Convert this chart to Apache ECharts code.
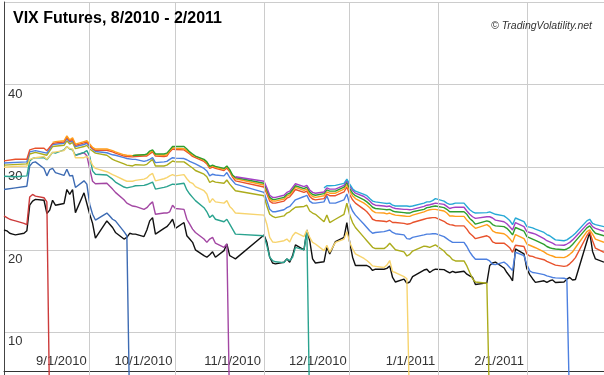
<!DOCTYPE html>
<html>
<head>
<meta charset="utf-8">
<script src="https://cdn.jsdelivr.net/npm/echarts@6/dist/echarts.min.js"></script>
<style>
html,body{margin:0;padding:0;background:#fff;}
#c{width:604px;height:375px;}
</style>
</head>
<body>
<div id="c"></div>
<script>
const _ = null;

const dates = [
'2010-08-02','2010-08-03','2010-08-04','2010-08-05','2010-08-06','2010-08-09','2010-08-10','2010-08-11','2010-08-12','2010-08-13','2010-08-16','2010-08-17','2010-08-18','2010-08-19','2010-08-20','2010-08-23','2010-08-24','2010-08-25','2010-08-26','2010-08-27','2010-08-30','2010-08-31',
'2010-09-01','2010-09-02','2010-09-03','2010-09-07','2010-09-08','2010-09-09','2010-09-10','2010-09-13','2010-09-14','2010-09-15','2010-09-16','2010-09-17','2010-09-20','2010-09-21','2010-09-22','2010-09-23','2010-09-24','2010-09-27','2010-09-28','2010-09-29','2010-09-30',
'2010-10-01','2010-10-04','2010-10-05','2010-10-06','2010-10-07','2010-10-08','2010-10-11','2010-10-12','2010-10-13','2010-10-14','2010-10-15','2010-10-18','2010-10-19','2010-10-20','2010-10-21','2010-10-22',
'2010-11-01','2010-11-02','2010-11-03','2010-11-04','2010-11-05','2010-11-08','2010-11-09','2010-11-10','2010-11-11','2010-11-12','2010-11-15','2010-11-16','2010-11-17','2010-11-18','2010-11-19','2010-11-22','2010-11-23','2010-11-24','2010-11-26','2010-11-29','2010-11-30',
'2010-12-01','2010-12-02','2010-12-03','2010-12-06','2010-12-07','2010-12-08','2010-12-09','2010-12-10','2010-12-13','2010-12-14','2010-12-15','2010-12-16','2010-12-17','2010-12-20','2010-12-21','2010-12-22','2010-12-23','2010-12-27','2010-12-28','2010-12-29','2010-12-30','2010-12-31',
'2011-01-03','2011-01-04','2011-01-05','2011-01-06','2011-01-07','2011-01-10','2011-01-11','2011-01-12','2011-01-13','2011-01-14','2011-01-18','2011-01-19','2011-01-20','2011-01-21','2011-01-24','2011-01-25','2011-01-26','2011-01-27','2011-01-28','2011-01-31',
'2011-02-01','2011-02-02','2011-02-03','2011-02-04','2011-02-07','2011-02-08','2011-02-09','2011-02-10','2011-02-11','2011-02-14','2011-02-15','2011-02-16','2011-02-17','2011-02-18','2011-02-22','2011-02-23','2011-02-24','2011-02-25','2011-02-28'
];

const monthTicks = ['2010-09-01','2010-10-01','2010-11-01','2010-12-01','2011-01-01','2011-02-01'];

const vix = [
22.4,22.3,22.0,21.9,21.8,22.0,22.3,25.4,25.9,26.1,26.0,24.4,24.8,26.0,25.4,25.6,27.3,26.7,27.3,24.5,26.9,25.6,
24.3,23.2,21.4,23.5,23.1,22.7,22.1,21.3,21.5,22.0,21.9,21.9,21.6,22.4,23.5,23.9,21.9,22.6,22.8,23.2,23.7,
22.6,23.3,21.7,21.3,20.9,20.0,19.3,19.1,19.4,19.75,19.1,19.9,20.7,19.3,19.1,18.9,
21.8,20.9,19.1,18.4,18.3,18.5,18.9,18.5,19.3,20.6,20.0,22.4,21.1,18.9,18.4,18.55,20.3,19.5,21.0,21.5,23.3,
20.9,19.1,18.1,18.1,18.1,17.9,17.5,17.65,17.65,17.75,18.05,16.65,16.1,16.45,15.95,16.1,16.75,17.55,17.65,17.25,17.5,17.65,
17.6,17.4,17.2,17.4,17.25,17.4,17.05,16.85,16.65,15.8,16.0,18.1,18.4,18.5,17.8,17.25,16.8,16.25,20.1,19.5,
17.7,17.0,16.5,16.05,16.25,16.05,16.25,16.35,16.05,16.1,16.45,16.65,16.35,16.4,21.0,22.1,19.8,18.9,18.5
];

const vxAug10 = [
24.1,23.9,23.7,23.6,23.5,23.2,23.05,26.4,26.7,26.5,26.3,25.8,0,_,_,_,_,_,_,_,_,_,
_,_,_,_,_,_,_,_,_,_,_,_,_,_,_,_,_,_,_,_,_,
_,_,_,_,_,_,_,_,_,_,_,_,_,_,_,_,
_,_,_,_,_,_,_,_,_,_,_,_,_,_,_,_,_,_,_,_,_,
_,_,_,_,_,_,_,_,_,_,_,_,_,_,_,_,_,_,_,_,_,_,
_,_,_,_,_,_,_,_,_,_,_,_,_,_,_,_,_,_,_,_,
_,_,_,_,_,_,_,_,_,_,_,_,_,_,_,_,_,_,_
];

const vxSep10 = [
27.3,_,_,_,27.5,_,27.7,30.15,30.55,30.65,29.85,28.95,29.7,29.85,29.35,29.0,29.75,28.95,29.0,27.55,28.35,27.95,
25.5,24.3,23.6,24.45,24.1,23.7,23.5,22.2,21.7,0,_,_,_,_,_,_,_,_,_,_,_,
_,_,_,_,_,_,_,_,_,_,_,_,_,_,_,_,
_,_,_,_,_,_,_,_,_,_,_,_,_,_,_,_,_,_,_,_,_,
_,_,_,_,_,_,_,_,_,_,_,_,_,_,_,_,_,_,_,_,_,_,
_,_,_,_,_,_,_,_,_,_,_,_,_,_,_,_,_,_,_,_,
_,_,_,_,_,_,_,_,_,_,_,_,_,_,_,_,_,_,_
];

const vxOct10 = [
_,_,_,_,_,_,_,_,_,_,_,_,_,_,_,_,_,_,_,31.45,31.75,31.4,
29.8,28.3,28.0,28.05,_,27.35,26.95,26.05,25.65,_,25.3,25.25,24.9,25.1,25.5,25.8,24.3,24.45,24.45,24.6,25.4,
25.0,24.9,23.7,23.1,22.5,22.1,21.3,20.9,21.3,21.5,20.8,20.3,20.7,0,_,_,
_,_,_,_,_,_,_,_,_,_,_,_,_,_,_,_,_,_,_,_,_,
_,_,_,_,_,_,_,_,_,_,_,_,_,_,_,_,_,_,_,_,_,_,
_,_,_,_,_,_,_,_,_,_,_,_,_,_,_,_,_,_,_,_,
_,_,_,_,_,_,_,_,_,_,_,_,_,_,_,_,_,_,_
];

const vxNov10 = [
28.9,_,_,_,28.85,_,28.95,30.75,31.05,31.15,31.15,30.9,_,31.8,31.7,32.1,32.5,32.2,32.1,31.45,31.8,32.0,
31.3,29.55,29.15,29.05,_,28.55,28.2,27.6,27.5,_,27.65,27.75,27.8,27.9,28.05,28.2,27.35,27.55,27.65,27.8,27.95,
27.9,28.05,27.25,26.75,26.35,25.95,25.1,24.6,23.9,24.2,23.7,23.4,23.7,23.1,22.5,21.9,
21.7,20.5,19.1,18.7,18.55,18.45,18.9,18.7,19.1,20.3,20.0,22.4,0,_,_,_,_,_,_,_,_,
_,_,_,_,_,_,_,_,_,_,_,_,_,_,_,_,_,_,_,_,_,_,
_,_,_,_,_,_,_,_,_,_,_,_,_,_,_,_,_,_,_,_,
_,_,_,_,_,_,_,_,_,_,_,_,_,_,_,_,_,_,_
];

const vxDec10 = [
30.0,_,_,_,30.1,_,30.15,30.95,_,31.15,31.3,30.95,_,31.8,_,32.0,32.5,32.25,32.2,31.15,31.15,31.3,
30.95,30.25,29.85,29.45,_,29.1,28.95,28.45,28.3,_,28.3,28.4,28.55,28.7,29.05,29.25,28.35,28.6,28.75,28.95,29.1,
28.95,29.1,28.6,28.2,28.05,27.65,27.15,26.75,25.7,26.2,25.8,25.65,25.95,25.25,24.9,24.45,
24.2,23.1,21.5,20.95,20.9,21.1,21.3,20.95,21.7,22.1,21.6,22.4,21.5,20.9,20.7,19.9,20.55,19.7,20.9,21.3,22.2,
20.9,20.1,19.5,18.95,18.7,18.4,18.05,18.0,17.85,18.15,18.7,17.35,17.25,16.75,16.5,0,_,_,_,_,_,_,
_,_,_,_,_,_,_,_,_,_,_,_,_,_,_,_,_,_,_,_,
_,_,_,_,_,_,_,_,_,_,_,_,_,_,_,_,_,_,_
];

const vxJan11 = [
30.25,_,_,_,_,_,30.4,31.6,_,31.8,_,31.45,_,32.5,_,32.65,33.2,32.8,33.0,32.25,32.5,32.65,
32.2,_,31.7,31.45,_,30.95,30.8,30.4,30.25,_,30.15,30.3,30.25,30.35,30.65,30.95,30.15,30.15,30.25,30.5,30.75,
30.65,30.65,30.4,30.15,29.9,29.6,29.15,28.85,28.15,28.35,28.2,28.05,28.45,27.95,27.55,27.15,
26.55,25.3,24.3,24.05,23.9,24.1,24.45,24.6,24.9,25.15,25.25,25.4,24.7,24.45,24.3,23.4,24.2,23.3,23.7,24.3,25.65,
24.2,23.3,22.7,21.5,21.1,20.7,20.3,20.15,20.15,20.4,20.8,20.4,20.0,19.75,19.25,19.45,19.85,20.45,20.4,20.3,20.45,20.6,
19.85,19.45,19.2,18.8,18.65,18.65,18.05,17.25,16.5,16.1,15.95,0,_,_,_,_,_,_,_,_,
_,_,_,_,_,_,_,_,_,_,_,_,_,_,_,_,_,_,_
];

const vxFeb11 = [
30.5,_,_,_,_,_,30.65,31.85,_,32.0,_,31.7,_,32.75,_,32.9,33.45,33.05,33.2,32.5,32.75,32.9,
32.5,_,31.9,31.75,_,31.5,31.45,31.15,31.05,_,30.95,30.95,30.7,30.8,30.95,31.15,30.55,30.65,30.7,30.95,31.15,
31.1,31.05,30.9,30.7,30.55,30.4,29.85,29.55,28.95,29.15,29.05,28.95,29.35,28.75,28.35,27.95,
26.95,25.95,24.9,24.6,24.6,24.85,25.1,25.25,25.65,26.05,26.45,26.6,25.9,25.65,25.65,25.8,26.55,25.65,25.65,26.05,26.75,
25.5,24.7,24.2,23.1,22.7,22.3,22.0,22.1,22.2,22.3,22.4,22.1,21.95,21.8,21.35,21.3,21.5,21.8,21.9,21.9,21.95,21.95,
21.6,21.35,21.1,20.9,20.9,20.9,20.4,19.75,19.25,18.85,18.85,18.65,18.25,18.2,18.5,18.25,17.85,17.5,19.7,19.3,
18.2,17.45,17.25,17.2,17.0,16.85,16.75,16.65,16.6,16.55,16.45,0,_,_,_,_,_,_,_
];

const vxMar11 = [
30.77,_,_,_,30.97,_,30.97,32.1,_,32.3,32.3,32.0,_,32.85,32.95,33.05,33.65,33.15,33.4,32.65,32.95,33.05,
32.65,32.25,32.05,32.05,_,31.85,31.7,31.35,31.3,_,31.25,31.3,31.35,31.35,31.6,31.85,31.35,31.3,31.35,31.85,32.2,
32.15,32.1,31.85,31.6,31.3,31.15,30.7,30.4,29.85,30.0,29.85,29.6,29.9,29.45,28.8,28.35,
27.6,26.8,25.9,25.65,25.65,25.9,26.25,26.4,26.85,27.3,26.95,27.1,26.45,26.15,26.05,26.2,26.75,26.55,26.55,27.0,27.6,
26.7,26.05,25.65,24.9,24.6,24.2,23.7,23.55,23.45,23.4,23.55,23.3,23.3,23.2,23.1,23.15,23.3,23.7,23.8,23.85,23.9,23.9,
23.45,23.2,23.05,23.0,22.9,22.9,22.5,22.0,21.7,21.35,21.7,21.5,20.95,20.8,20.8,20.55,20.25,19.7,20.55,20.4,
19.5,19.25,19.2,19.05,18.8,18.6,18.45,18.3,18.15,18.0,18.05,18.3,18.65,19.05,21.7,22.2,21.1,20.2,19.7
];

const vxApr11 = [
_,_,_,_,_,_,_,_,_,_,_,_,_,33.0,33.1,33.2,33.8,33.3,33.55,32.8,33.1,33.2,
32.8,32.4,32.2,32.2,_,32.0,31.85,31.5,31.45,_,31.4,31.45,31.5,31.5,31.75,32.0,31.5,31.45,31.5,32.0,32.35,
32.3,32.25,32.0,31.75,31.45,31.3,30.85,30.55,30.0,30.15,30.0,29.75,30.05,29.6,28.95,28.6,
27.85,27.05,26.15,25.9,25.9,26.15,26.5,26.65,27.1,27.55,27.2,27.35,26.75,26.45,26.35,26.55,27.0,26.85,26.85,27.35,27.9,
27.1,26.55,26.2,25.65,25.4,25.1,24.7,24.5,24.45,24.35,24.45,24.3,24.2,24.1,24.05,24.05,24.2,24.6,24.75,24.85,24.9,24.9,
24.7,24.45,24.1,24.1,24.05,24.05,23.6,23.25,22.9,22.6,23.05,22.8,22.3,22.1,21.95,21.7,21.35,20.9,21.85,21.35,
20.7,20.55,20.4,20.25,19.75,19.5,19.35,19.25,19.1,19.05,19.2,19.45,19.75,20.25,22.2,22.4,21.9,21.3,20.9
];

const vxMay11 = [
_,_,_,_,_,_,_,_,_,_,_,_,_,_,_,_,_,_,_,_,_,_,
_,_,_,_,_,_,_,_,_,_,31.4,31.45,31.5,31.6,31.95,32.1,31.6,31.6,31.7,32.1,32.5,
32.5,32.5,32.2,31.85,31.6,31.35,30.95,30.65,30.1,30.25,30.1,29.85,30.15,29.7,29.05,28.75,
28.05,27.25,26.35,26.1,26.1,26.35,26.7,26.85,27.3,27.75,27.4,27.6,27.0,26.7,26.6,26.8,27.25,27.1,27.1,27.6,28.15,
27.4,26.85,26.55,26.05,25.8,25.5,25.15,25.0,24.9,24.85,24.9,24.7,24.6,24.5,24.45,24.45,24.6,24.9,25.1,25.15,25.25,25.3,
25.1,24.9,24.6,24.6,24.6,24.6,24.3,23.8,23.5,23.1,23.5,23.4,23.05,22.9,22.8,22.6,22.25,21.8,22.7,22.25,
21.6,21.45,21.3,21.15,20.65,20.4,20.25,20.15,20.1,20.0,20.1,20.3,20.65,21.05,22.65,22.9,22.4,22.0,21.7
];

const vxJun11 = [
_,_,_,_,_,_,_,_,_,_,_,_,_,_,_,_,_,_,_,_,_,_,
_,_,_,_,_,_,_,_,_,_,_,_,_,_,_,_,_,_,_,_,_,
_,_,_,_,_,_,_,_,_,_,_,_,_,_,_,28.85,
28.3,27.5,26.6,26.35,26.35,26.6,26.95,27.1,27.55,28.0,27.65,27.8,27.25,26.95,26.85,27.0,27.5,27.35,27.35,27.8,28.4,
27.75,27.2,26.85,26.45,26.2,25.9,25.55,25.4,25.3,25.25,25.3,25.1,25.0,24.9,24.9,24.85,24.9,25.25,25.4,25.45,25.55,25.65,
25.5,25.25,25.0,25.1,25.15,25.15,24.7,24.3,24.0,23.8,24.0,24.0,23.85,23.6,23.4,23.15,22.8,22.4,23.3,22.8,
22.2,22.1,22.0,21.9,21.35,21.1,20.95,20.8,20.6,20.55,20.7,20.9,21.2,21.55,23.05,23.3,22.8,22.6,22.25
];

const vxJul11 = [
_,_,_,_,_,_,_,_,_,_,_,_,_,_,_,_,_,_,_,_,_,_,
_,_,_,_,_,_,_,_,_,_,_,_,_,_,_,_,_,_,_,_,_,
_,_,_,_,_,_,_,_,_,_,_,_,_,_,_,_,
_,_,_,_,_,_,_,_,_,_,_,_,_,_,_,27.5,27.75,27.75,27.8,28.05,28.55,
27.95,27.4,27.1,26.7,26.55,26.2,25.9,25.8,25.65,25.6,25.65,25.4,25.3,25.3,25.3,25.25,25.3,25.65,25.8,25.8,25.95,26.2,
25.9,25.65,25.5,25.55,25.65,25.65,25.25,24.85,24.6,24.45,24.5,24.6,24.45,24.3,24.1,23.85,23.55,23.05,23.85,23.4,
22.8,22.75,22.65,22.5,22.1,21.85,21.7,21.45,21.2,21.1,21.2,21.45,21.7,22.0,23.5,23.7,23.2,23.05,22.8
];

const seriesNames = ['VIX','Aug 2010','Sep 2010','Oct 2010','Nov 2010','Dec 2010','Jan 2011','Feb 2011','Mar 2011','Apr 2011','May 2011','Jun 2011','Jul 2011'];
const seriesValues = [vix, vxAug10, vxSep10, vxOct10, vxNov10, vxDec10, vxJan11, vxFeb11, vxMar11, vxApr11, vxMay11, vxJun11, vxJul11];
const seriesColors = ['#111111','#cc3b3b','#3d6bb3','#a347a3','#2aa38f','#f7d46e','#acac1c','#4d80e0','#e8522c','#ff9e1b','#2e9e2e','#a341c4','#27a9d6'];

const yTicks = [10, 20, 30, 40];

const chart = echarts.init(document.getElementById('c'), null, {renderer: 'canvas', width: 604, height: 375});

const fmtDate = v => { const d = new Date(v); return (d.getMonth() + 1) + '/' + d.getDate() + '/' + d.getFullYear(); };
const monthTickTimes = monthTicks.map(s => { const p = s.split('-'); return new Date(+p[0], +p[1] - 1, +p[2]).getTime(); });
const isMonthTick = v => monthTickTimes.some(t => Math.abs(t - v) < 43200000);

const gridSeries = {
  name: 'grid', type: 'line', data: [], z: 1, silent: true,
  markLine: {
    silent: true, symbol: ['none', 'none'], animation: false,
    label: {show: false},
    lineStyle: {color: '#cccccc', width: 1, type: 'solid'},
    emphasis: {disabled: true},
    data: monthTickTimes.map(t => ({xAxis: t}))
  }
};

chart.setOption({
  animation: false,
  backgroundColor: '#ffffff',
  textStyle: {fontFamily: 'Liberation Sans, Arial, sans-serif'},
  title: [
    {text: 'VIX Futures, 8/2010 - 2/2011', left: 8, top: 6,
     textStyle: {fontFamily: 'Liberation Sans, Arial, sans-serif', fontSize: 16, fontWeight: 'bold', color: '#000'}},
    {text: '\u00A9 TradingVolatility.net', right: 7, top: 16,
     textStyle: {fontFamily: 'Liberation Sans, Arial, sans-serif', fontSize: 10.5, fontStyle: 'italic', fontWeight: 'normal', color: '#333'}}
  ],
  grid: {left: 4, right: 0, top: 2, bottom: -40, containLabel: false, outerBoundsMode: 'none'},
  xAxis: {
    type: 'time',
    min: '2010-08-02', max: '2011-02-28',
    offset: -44,
    axisLine: {show: true, lineStyle: {color: '#333', width: 1}},
    axisTick: {show: false},
    minorTick: {show: false},
    minorSplitLine: {show: false},
    axisLabel: {
      inside: true, margin: 3, align: 'right', padding: [0, 3, 0, 0],
      fontSize: 13, color: '#333', showMinLabel: false, showMaxLabel: false,
      formatter: v => isMonthTick(v) ? fmtDate(v) : ''
    },
    splitLine: {show: false}
  },
  yAxis: {
    type: 'value', min: 0, max: 50, interval: 10,
    axisLine: {show: true, lineStyle: {color: '#444', width: 1}},
    axisTick: {show: false},
    axisLabel: {
      inside: true, margin: 4, verticalAlign: 'top', padding: [3, 0, 0, 0],
      fontSize: 13, color: '#333',
      formatter: v => yTicks.indexOf(v) >= 0 ? String(v) : ''
    },
    splitLine: {show: true, lineStyle: {color: '#cccccc', width: 1}}
  },
  series: [gridSeries].concat(seriesValues.map((vals, i) => ({
    name: seriesNames[i],
    type: 'line',
    z: 2,
    symbol: 'none',
    showSymbol: false,
    connectNulls: true,
    lineStyle: {width: 1.4, color: seriesColors[i]},
    itemStyle: {color: seriesColors[i]},
    data: dates.map((d, j) => [d, vals[j]])
  })))
});
</script>
</body>
</html>
